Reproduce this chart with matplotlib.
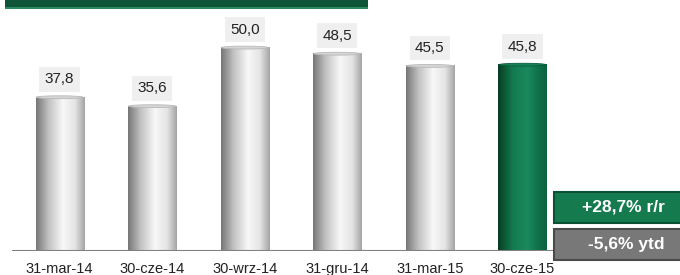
import numpy as np
import matplotlib.pyplot as plt
from matplotlib.patches import Rectangle, Ellipse

# dane
kategorie = ['31-mar-14', '30-cze-14', '30-wrz-14', '31-gru-14', '31-mar-15', '30-cze-15']
wartosci = [37.8, 35.6, 50.0, 48.5, 45.5, 45.8]
dynamika_rr = '+28,7% r/r'
dynamika_ytd = '-5,6% ytd'

plt.rcParams['font.family'] = ['Liberation Sans', 'DejaVu Sans']


def gradient(stops, n=200):
    # stops: lista (pozycja, kolor hex)
    pos = np.array([s[0] for s in stops])
    cols = np.array([[int(c[i:i + 2], 16) / 255 for i in (1, 3, 5)] for _, c in stops])
    t = np.linspace(0, 1, n)
    rgb = np.stack([np.interp(t, pos, cols[:, k]) for k in range(3)], axis=-1)
    return rgb[np.newaxis, :, :]


szary = gradient([(0, '#767676'), (0.25, '#c0c0c0'), (0.55, '#f8f8f8'), (0.8, '#e4e4e4'), (1, '#a4a4a4')])
zielony = gradient([(0, '#083c24'), (0.3, '#137a4e'), (0.6, '#1a8a5c'), (0.85, '#0f6e46'), (1, '#0c6240')])

fig = plt.figure(figsize=(6.8, 2.75), dpi=100)
ax = fig.add_axes([12 / 680, 24 / 275, (553 - 12) / 680, 251 / 275])

x = np.arange(len(wartosci))
w = 0.52
ax.set_xlim(-0.514, 5.33)
ax.set_ylim(0, 61.7)

for i, v in enumerate(wartosci):
    zielona = i == len(wartosci) - 1
    grad = zielony if zielona else szary
    ax.imshow(grad, extent=[x[i] - w / 2, x[i] + w / 2, 0, v], aspect='auto', zorder=2)
    kol_cap = '#158255' if zielona else '#d6d6d6'
    kol_ram = '#0c5a3a' if zielona else '#b8b8b8'
    ax.add_patch(Ellipse((x[i], v), w * 0.98, 0.7, facecolor=kol_cap, edgecolor=kol_ram, lw=0.6, zorder=3))
    ax.text(x[i], v + 4.4, f'{v:.1f}'.replace('.', ','), ha='center', va='center', fontsize=11,
            color='#222222', zorder=4,
            bbox=dict(facecolor='#efefef', edgecolor='none', boxstyle='square,pad=0.35'))

ax.axhline(0, color='#808080', lw=1.5, zorder=5)
ax.set_xticks(x)
ax.set_xticklabels(kategorie, fontsize=10.5, color='#222222')
ax.tick_params(axis='x', length=0, pad=8)
ax.set_yticks([])
for s in ax.spines.values():
    s.set_visible(False)

# pasek tytulu u gory
fig.patches.append(Rectangle((5 / 680, 1 - 8 / 275), 363 / 680, 8 / 275, transform=fig.transFigure,
                             facecolor='#0e5436', edgecolor='none'))
fig.patches.append(Rectangle((5 / 680, 1 - 9 / 275), 363 / 680, 2 / 275, transform=fig.transFigure,
                             facecolor='#2c8a5e', edgecolor='none'))

# ramki z dynamika
for (tekst, y0, y1, kol, ram) in [(dynamika_rr, 192, 223, '#167a4f', '#0b5234'),
                                 (dynamika_ytd, 229, 260, '#787878', '#4a4a4a')]:
    fig.patches.append(Rectangle((554 / 680, 1 - y1 / 275), 130 / 680, (y1 - y0) / 275,
                                 transform=fig.transFigure, facecolor=kol, edgecolor=ram, lw=1.5))
    fig.text(665 / 680, 1 - (y0 + y1) / 2 / 275, tekst, ha='right', va='center', fontsize=12.5,
             fontweight='bold', color='white')

fig.savefig('out.png', dpi=100)
